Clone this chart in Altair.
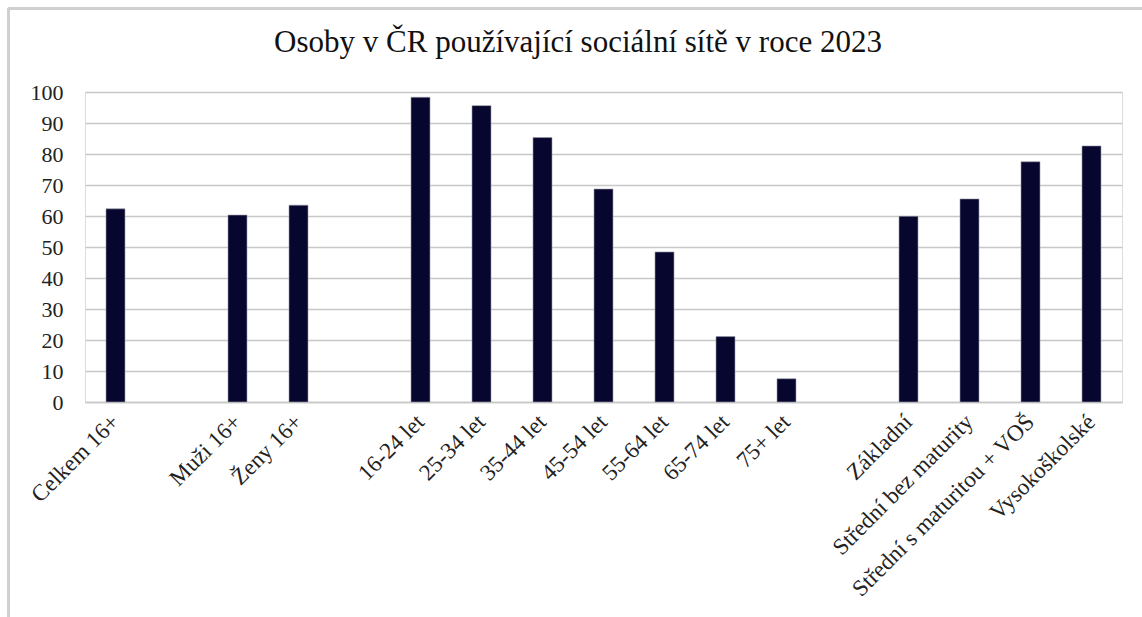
import altair as alt
import pandas as pd

categories = ["Celkem 16+", " ", "Muži 16+", "Ženy 16+", "  ",
              "16-24 let", "25-34 let", "35-44 let", "45-54 let", "55-64 let",
              "65-74 let", "75+ let", "   ",
              "Základní", "Střední bez maturity", "Střední s maturitou + VOŠ", "Vysokoškolské"]
values = [62.3, None, 60.3, 63.5, None,
          98.3, 95.6, 85.3, 68.7, 48.4,
          21.1, 7.5, None,
          59.9, 65.5, 77.5, 82.6]
y_ticks = [0, 10, 20, 30, 40, 50, 60, 70, 80, 90, 100]
title_text = "Osoby v ČR používající sociální sítě v roce 2023"

df = pd.DataFrame({"kategorie": categories, "hodnota": values})

FONT = "Liberation Serif"

bars = alt.Chart(df).mark_bar(color="#06062f", size=19, stroke="#9a9aa8", strokeWidth=0.6).encode(
    x=alt.X("kategorie:N", sort=categories,
            scale=alt.Scale(domain=categories, paddingInner=0, paddingOuter=0),
            axis=alt.Axis(title=None, labelAngle=-45, labelAlign="right", labelBaseline="middle",
                          labelPadding=16, ticks=False, domain=True, domainColor="#c8c8c8",
                          domainWidth=1.5, labelFont=FONT, labelFontSize=23, labelColor="#222222",
                          labelOverlap=False, labelLimit=400)),
    y=alt.Y("hodnota:Q", scale=alt.Scale(domain=[0, 100], nice=False),
            axis=alt.Axis(title=None, values=y_ticks, ticks=False, domain=False,
                          gridColor="#c8c8c8", gridWidth=1.5, labelFont=FONT, labelFontSize=22,
                          labelColor="#222222", labelPadding=22)),
)

title_mark = alt.Chart(pd.DataFrame({"t": [title_text]})).mark_text(
    font=FONT, fontSize=31, color="#111111", align="center", baseline="alphabetic"
).encode(text="t:N", x=alt.value(578 - 85), y=alt.value(52 - 92))

top_border = alt.Chart(df).mark_rule(color="#cfcfcf", strokeWidth=1.5).encode(
    x=alt.value(-77), x2=alt.value(1142 - 85), y=alt.value(-83.5))
left_border = alt.Chart(df).mark_rule(color="#cfcfcf", strokeWidth=1.5).encode(
    x=alt.value(-76.5), y=alt.value(-84), y2=alt.value(617 - 92))

chart = alt.layer(bars, title_mark, top_border, left_border).properties(
    width=1037, height=310,
    autosize=alt.AutoSizeParams(type="none"),
    padding={"left": 85, "top": 92, "right": 20, "bottom": 215},
).configure_view(stroke=None).configure(background="white")

chart.save("out.html", embed_options={"renderer": "svg", "actions": False})
